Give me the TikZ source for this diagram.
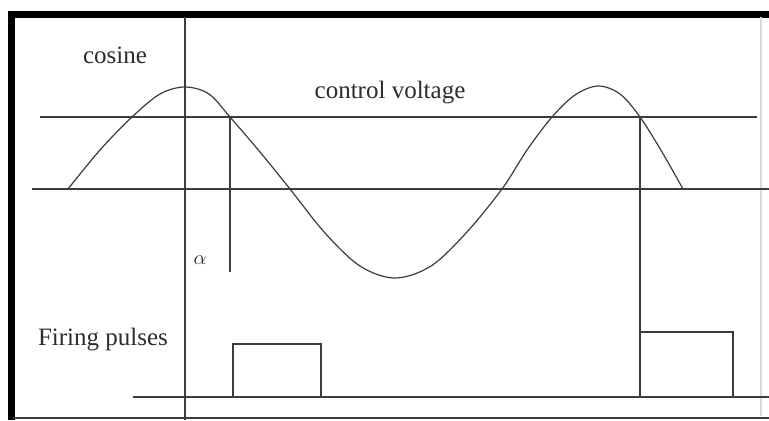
\documentclass[tikz,border=0pt]{standalone}
\usepackage{fontspec}
\setmainfont{Liberation Serif}
\usetikzlibrary{positioning}
\definecolor{linegray}{RGB}{60,60,60}
\definecolor{textgray}{RGB}{45,45,45}

\begin{document}
\begin{tikzpicture}[x=0.5pt, y=-0.5pt, line width=0.6pt, every node/.style={font=\fontsize{12.5}{14}\selectfont, text=textgray}]
            \useasboundingbox (0,0) rectangle (769,420);
            \fill[white] (0,0) rectangle (769,420);
            % frame
            \draw[line width=3.2pt] (11.5,420) -- (11.5,14.5) -- (769,14.5);
            \draw[line width=1pt, linegray] (13,418) -- (769,418);
            \draw[gray!30] (761,17) -- (761,416);
            % axes and levels
            \draw[linegray] (185,17) -- (185,420);
            \draw[linegray] (40,117) -- (757,117);
            \draw[linegray] (32,189) -- (769,189);
            \draw[linegray] (133,397) -- (769,397);
            % cosine
            \draw[linegray] plot[smooth, tension=0.55] coordinates {(68,189) (100,150) (132,117) (160,94) (185,87) (209,94) (230,117) (260,152) (290,189) (325,233) (360,266) (395,278) (431,266) (466,233) (502,189) (527,150) (552,117) (575,95) (598,86) (620,94) (640,117) (662,152) (683,189)};
            \draw[line width=1pt, linegray] (551,117) -- (563,117);
            % firing instants
            \coordinate (fire1) at (230,117);
            \coordinate (fire2) at (640,117);
            \draw[linegray] (fire1) -- (230,272);
            \draw[linegray] (fire2) -- (640,332);
            % pulses
            \draw[linegray] (233,344) rectangle (321,397);
            \draw[linegray] (640,332) rectangle (733,397);
            \node (cosinelabel) at (115,55) {cosine};
            \node (ctrllabel) at (390,93) {control voltage};
            \node (firinglabel) at (103,340) {Firing pulses};
            \node[font=\normalsize] (alphalabel) at (200,260) {$\alpha$};
        \end{tikzpicture}
\end{document}
